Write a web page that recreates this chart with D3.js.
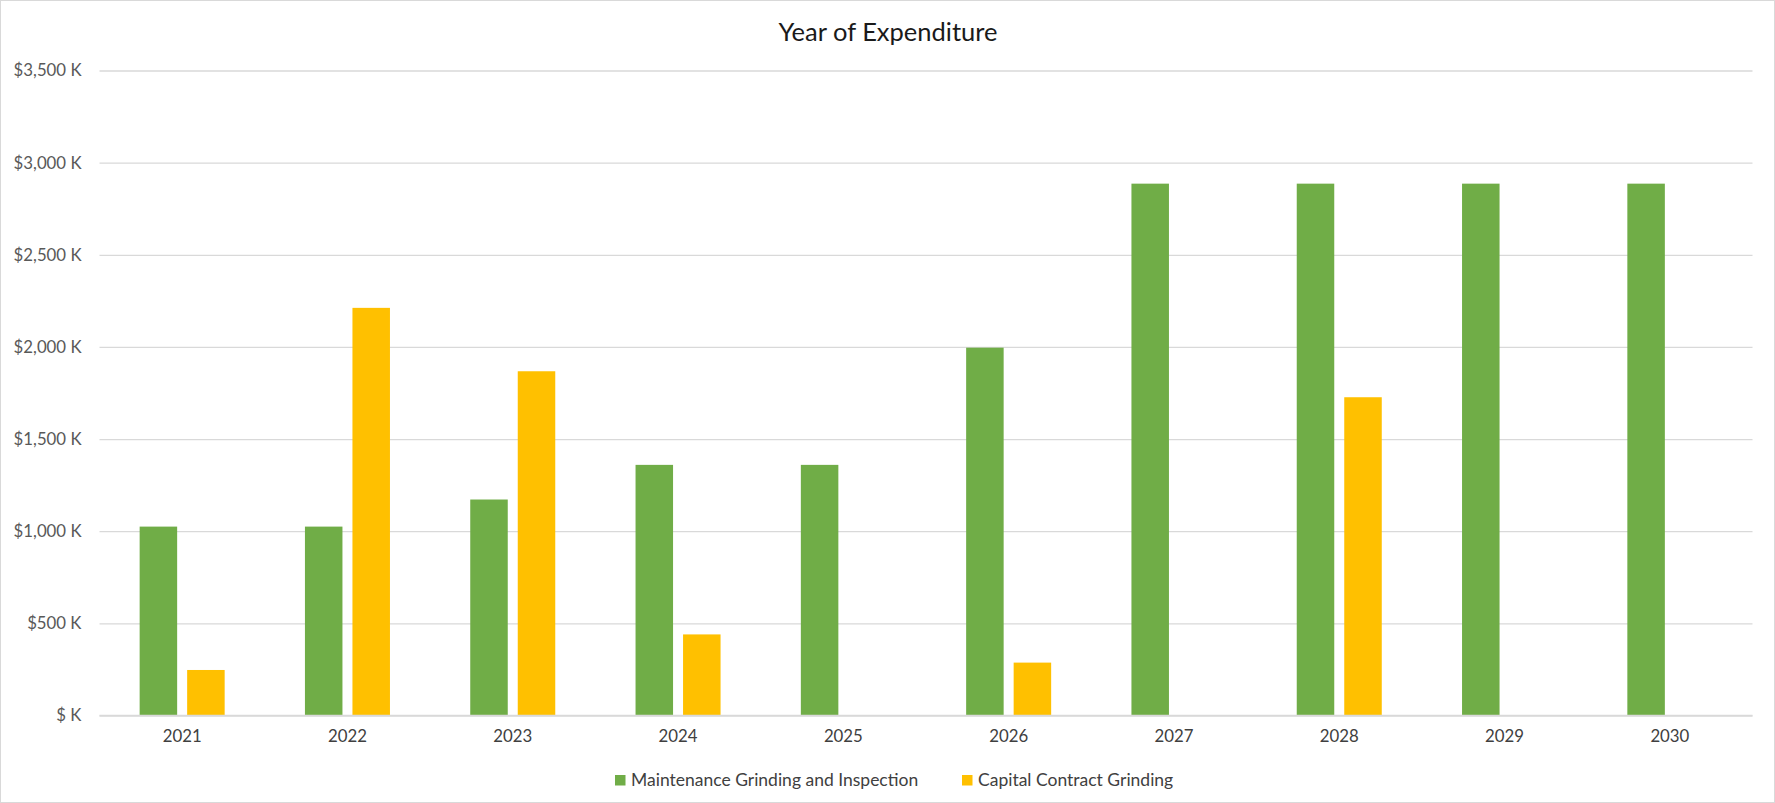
<!DOCTYPE html>
<html>
<head>
<meta charset="utf-8">
<script src="https://cdn.jsdelivr.net/npm/d3@7/dist/d3.min.js"></script>
<style>
  html, body { margin: 0; padding: 0; background: #fff; }
  svg { display: block; font-family: Lato, "Open Sans", sans-serif; }
</style>
</head>
<body>
<svg id="chart" width="1775" height="803"></svg>
<script>
const years = ["2021","2022","2023","2024","2025","2026","2027","2028","2029","2030"];
const seriesNames = ["Maintenance Grinding and Inspection", "Capital Contract Grinding"];
const maintenance = [1025, 1025, 1172, 1360, 1360, 1996, 2886, 2886, 2886, 2886];
const capital = [247, 2212, 1868, 440, 0, 287, 0, 1727, 0, 0];
const yTicks = [0, 500, 1000, 1500, 2000, 2500, 3000, 3500];
const colors = ["#70AD47", "#FFC000"];

const W = 1775, H = 803;
const svg = d3.select("#chart");
const plotLeft = 99.5, plotRight = 1752.5, plotTop = 70.5, plotBottom = 715.5;

svg.append("rect").attr("x", 0.5).attr("y", 0.5).attr("width", W - 1).attr("height", H - 1)
  .attr("fill", "#fff").attr("stroke", "#d9d9d9").attr("stroke-width", 1);

const x0 = d3.scaleBand().domain(years).range([plotLeft, plotRight]).paddingInner(0).paddingOuter(0);
const x1 = d3.scaleBand().domain([0, 1]).range([0, x0.bandwidth()]).paddingInner(0.2105).paddingOuter(0.845);
const y = d3.scaleLinear().domain([0, 3500]).range([plotBottom, plotTop]);

const fmt = v => v === 0 ? "$ K" : "$" + d3.format(",")(v) + " K";

// gridlines + y axis
const yAxis = d3.axisLeft(y).tickValues(yTicks).tickSize(-(plotRight - plotLeft)).tickFormat(fmt).tickPadding(18);
const gy = svg.append("g").attr("transform", `translate(${plotLeft},0)`).call(yAxis);
gy.select(".domain").remove();
gy.selectAll(".tick line").attr("stroke", "#d9d9d9").attr("stroke-width", 1.3);
gy.selectAll(".tick text").attr("fill", "#595959").style("font-size", "16.8px").style("font-family", "Lato, sans-serif");

// bars
const data = years.map((yr, i) => ({ yr, vals: [maintenance[i], capital[i]] }));
const groups = svg.append("g").selectAll("g").data(data).join("g")
  .attr("transform", d => `translate(${x0(d.yr)},0)`);
groups.selectAll("rect").data(d => d.vals.map((v, k) => ({ v, k }))).join("rect")
  .attr("x", d => x1(d.k))
  .attr("width", x1.bandwidth())
  .attr("y", d => y(d.v))
  .attr("height", d => y(0) - y(d.v))
  .attr("fill", d => colors[d.k]);

// baseline
svg.append("line").attr("x1", plotLeft).attr("x2", plotRight).attr("y1", y(0)).attr("y2", y(0))
  .attr("stroke", "#d9d9d9").attr("stroke-width", 1.3);

// x axis labels
const xAxis = d3.axisBottom(x0).tickSize(0).tickPadding(15);
const gx = svg.append("g").attr("transform", `translate(0,${plotBottom})`).call(xAxis);
gx.select(".domain").remove();
gx.selectAll(".tick text").attr("fill", "#404040").style("font-size", "16.8px").style("font-family", "Lato, sans-serif");

// title
svg.append("text").attr("x", 888).attr("y", 41).attr("text-anchor", "middle")
  .attr("fill", "#1a1a1a").style("font-size", "25.5px").text("Year of Expenditure");

// legend
const legendItems = [
  { name: seriesNames[0], color: colors[0], sx: 615, tx: 631 },
  { name: seriesNames[1], color: colors[1], sx: 962, tx: 978 }
];
const lg = svg.append("g");
legendItems.forEach(it => {
  lg.append("rect").attr("x", it.sx).attr("y", 775).attr("width", 10.5).attr("height", 10.5).attr("fill", it.color);
  lg.append("text").attr("x", it.tx).attr("y", 786).attr("fill", "#404040")
    .style("font-size", "17.5px").text(it.name);
});
</script>
</body>
</html>
